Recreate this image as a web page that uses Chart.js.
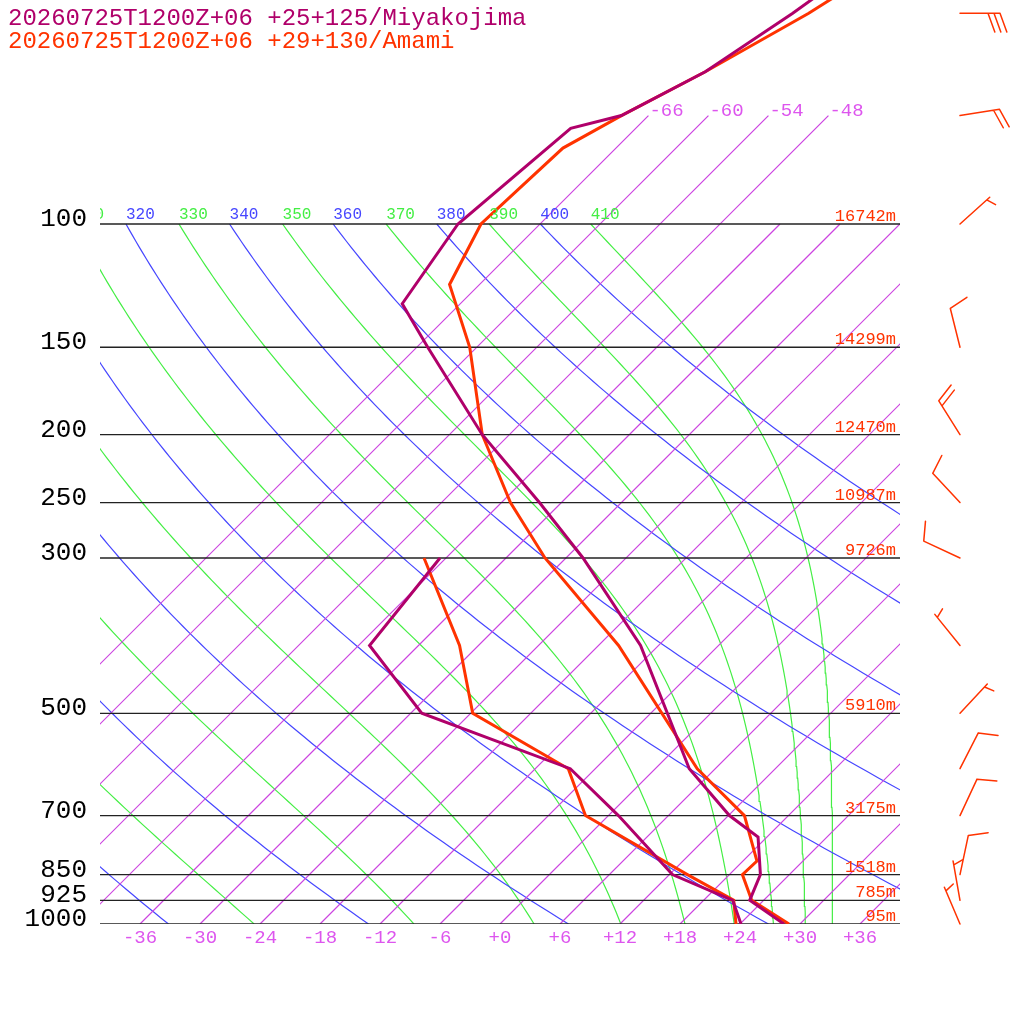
<!DOCTYPE html>
<html><head><meta charset="utf-8">
<script src="https://cdn.jsdelivr.net/npm/chart.js@4"></script>
<style>html,body{margin:0;padding:0;background:#fff}canvas{display:block}</style>
</head><body>
<canvas id="c" width="1024" height="1024"></canvas>
<script>
// ---- data ----
const titleMiyako = "20260725T1200Z+06 +25+125/Miyakojima";
const titleAmami  = "20260725T1200Z+06 +29+130/Amami";
const miyakoP  = [1000,925,850,751,700,600,400,300,250,200,150,130,100,73,70,60.6,50,30];
const miyakoT  = [28.4,22.6,21.1,17.1,12.1,3.4,-13.8,-28.3,-38.2,-50.7,-64.9,-71.8,-74.2,-72.5,-68.7,-64.7,-61.8,-55.8];
const miyakoTdP = [1000,925,850,700,600,500,400,300];
const miyakoTd  = [24.1,20.9,12.3,1.0,-8.5,-28.9,-40.9,-42.6];
const amamiP  = [1000,925,850,813,700,600,400,300,250,200,150,122,100,77.9,70,60.6,50,30];
const amamiT  = [28.9,22.8,19.3,19.4,13.6,4.2,-16.0,-32.1,-41.1,-50.7,-60.7,-69.0,-71.9,-71.3,-68.7,-64.7,-60.2,-51.2];
const amamiTdP = [1000,925,850,700,600,500,400,300];
const amamiTd  = [23.6,21.0,13.8,-2.3,-8.7,-23.8,-31.9,-44.2];
const windP   = [50,70,100,150,200,250,300,400,500,600,700,850,925,1000];
const windDir = [90,81,48,346,328,317,295,321,43,27,25,12,350,337];
const windSpd = [30,20,5,10,20,10,10,5,5,10,10,10,5,5];
const levelP  = [100,150,200,250,300,500,700,850,925,1000];
const heightM = [16742,14299,12470,10987,9726,5910,3175,1518,785,95];
const tempTicks = [-36,-30,-24,-18,-12,-6,0,6,12,18,24,30,36];
const isothermT = [-66,-60,-54,-48,-42,-36,-30,-24,-18,-12,-6,0,6,12,18,24,30,36];
const topIsoLabels = [-66,-60,-54,-48];
const thetaVals = [220,240,260,280,300,320,340,360,380,400];
const thetaEVals = [190,210,230,250,270,290,310,330,350,370,390,410];

const C_MIY = 'rgb(176,0,106)', C_AMA = 'rgb(255,51,0)', C_ISO = 'rgb(204,68,224)', C_BLUE = 'rgb(70,70,255)', C_GREEN = 'rgb(68,238,68)';
const MONO = '"Liberation Mono", "DejaVu Sans Mono", monospace';

const skewX = (T, p) => T + 70 * Math.log10(1000 / p);
const pts = (P, T) => P.map((p, i) => ({x: skewX(T[i], p), y: p}));

const pGrid = [];
for (let k = 0; k <= 120; k++) pGrid.push(1000 * Math.pow(10, -k / 120));

function es(Tc) { return 6.112 * Math.exp(17.67 * Tc / (Tc + 243.5)); }
function thetaE(Tc, p) {
  const TK = Tc + 273.15, e = es(Tc), r = 0.622 * e / (p - e);
  return TK * Math.pow(1000 / p, 0.2854 * (1 - 0.28 * r)) * Math.exp((3.376 / TK - 0.00254) * r * 1000 * (1 + 0.81 * r));
}
function solveTe(te, p) {
  let lo = -150, hi = 50;
  for (let i = 0; i < 60; i++) { const m = (lo + hi) / 2; if (thetaE(m, p) > te) hi = m; else lo = m; }
  return (lo + hi) / 2;
}

const datasets = [];
const bg = (data, color) => ({data, borderColor: color, backgroundColor: color, borderWidth: 1.2, pointRadius: 0, showLine: true, fill: false, clip: 0, order: 3, tension: 0});
isothermT.forEach(T => {
  const top = topIsoLabels.includes(T) ? 70 : 100;
  datasets.push(bg([{x: skewX(T, 1000), y: 1000}, {x: skewX(T, top), y: top}], C_ISO));
});
thetaVals.forEach(th => datasets.push(bg(pGrid.map(p => ({x: skewX(th * Math.pow(p / 1000, 0.2857) - 273.15, p), y: p})), C_BLUE)));
thetaEVals.forEach(te => datasets.push(bg(pGrid.map(p => ({x: skewX(solveTe(te, p), p), y: p})), C_GREEN)));
levelP.forEach(p => datasets.push({data: [{x: -40, y: p}, {x: 40, y: p}], borderColor: '#222', backgroundColor: '#222', borderWidth: 1.3, pointRadius: 0, showLine: true, clip: 0, order: 2}));
const snd = (data, color) => ({data, borderColor: color, backgroundColor: color, borderWidth: 3, pointRadius: 0, showLine: true, fill: false, clip: 0, order: 1, tension: 0});
datasets.push(snd(pts(miyakoP, miyakoT), C_MIY));
datasets.push(snd(pts(miyakoTdP, miyakoTd), C_MIY));
datasets.push(snd(pts(amamiP, amamiT), C_AMA));
datasets.push(snd(pts(amamiTdP, amamiTd), C_AMA));

const textPlugin = {
  id: 'skewtText',
  afterDatasetsDraw(chart) {
    const ctx = chart.ctx, xs = chart.scales.x, ys = chart.scales.y;
    ctx.save();
    ctx.save();
    ctx.beginPath(); ctx.rect(xs.left, 150, 520, 80); ctx.clip();
    ctx.font = '16px ' + MONO; ctx.textAlign = 'left'; ctx.textBaseline = 'alphabetic';
    const labelsAt = (vals, fn, col) => vals.forEach(v => {
      const x = xs.getPixelForValue(skewX(fn(v), 100));
      if (x < 620) { ctx.fillStyle = col; ctx.fillText(String(v), x, 219); }
    });
    labelsAt(thetaVals, th => th * Math.pow(0.1, 0.2857) - 273.15, C_BLUE);
    labelsAt(thetaEVals, te => solveTe(te, 100), C_GREEN);
    ctx.restore();
    ctx.font = '19px ' + MONO; ctx.fillStyle = '#dd55ee'; ctx.textAlign = 'left';
    topIsoLabels.forEach(T => ctx.fillText(String(T), xs.getPixelForValue(skewX(T, 70)) + 1, ys.getPixelForValue(70)));
    ctx.textAlign = 'center';
    tempTicks.forEach(T => ctx.fillText((T >= 0 ? '+' : '') + T, xs.getPixelForValue(T), 943));
    ctx.font = '26px ' + MONO; ctx.fillStyle = '#000'; ctx.textAlign = 'right';
    levelP.forEach(p => ctx.fillText(String(p), 87, ys.getPixelForValue(p) + 2));
    ctx.font = '17px ' + MONO; ctx.fillStyle = C_AMA; ctx.textAlign = 'right';
    levelP.forEach((p, i) => ctx.fillText(heightM[i] + 'm', 896, ys.getPixelForValue(p) - 3));
    ctx.font = '24px ' + MONO; ctx.textAlign = 'left';
    ctx.fillStyle = C_MIY; ctx.fillText(titleMiyako, 8, 25);
    ctx.fillStyle = C_AMA; ctx.fillText(titleAmami, 8, 48);
    ctx.strokeStyle = C_AMA; ctx.lineWidth = 1.5; ctx.lineCap = 'round';
    const a = 70 * Math.PI / 180;
    windP.forEach((p, i) => {
      const bx = 960, by = ys.getPixelForValue(p), d = windDir[i] * Math.PI / 180;
      const ux = Math.sin(d), uy = -Math.cos(d);
      const vx = ux * Math.cos(a) - uy * Math.sin(a), vy = ux * Math.sin(a) + uy * Math.cos(a);
      const tx = bx + 40 * ux, ty = by + 40 * uy;
      ctx.beginPath(); ctx.moveTo(bx, by); ctx.lineTo(tx, ty);
      const n = Math.floor(windSpd[i] / 10);
      for (let k = 0; k < n; k++) {
        const sx = tx - k * 6 * ux, sy = ty - k * 6 * uy;
        ctx.moveTo(sx, sy); ctx.lineTo(sx + 20 * vx, sy + 20 * vy);
      }
      if (windSpd[i] % 10 >= 5) {
        const off = n === 0 ? 4 : n * 6;
        const sx = tx - off * ux, sy = ty - off * uy;
        ctx.moveTo(sx, sy); ctx.lineTo(sx + 10 * vx, sy + 10 * vy);
      }
      ctx.stroke();
    });
    ctx.restore();
  }
};

new Chart(document.getElementById('c'), {
  type: 'scatter',
  data: {datasets},
  options: {
    responsive: false, animation: false, devicePixelRatio: 1,
    layout: {padding: {left: 100, right: 124, top: 0, bottom: 100}},
    plugins: {legend: {display: false}, tooltip: {enabled: false}},
    scales: {
      x: {type: 'linear', min: -40, max: 40, display: false},
      y: {type: 'logarithmic', reverse: true, min: 1000 / Math.pow(10, 924 / 700), max: 1000, display: false}
    }
  },
  plugins: [textPlugin]
});
</script>
</body></html>
